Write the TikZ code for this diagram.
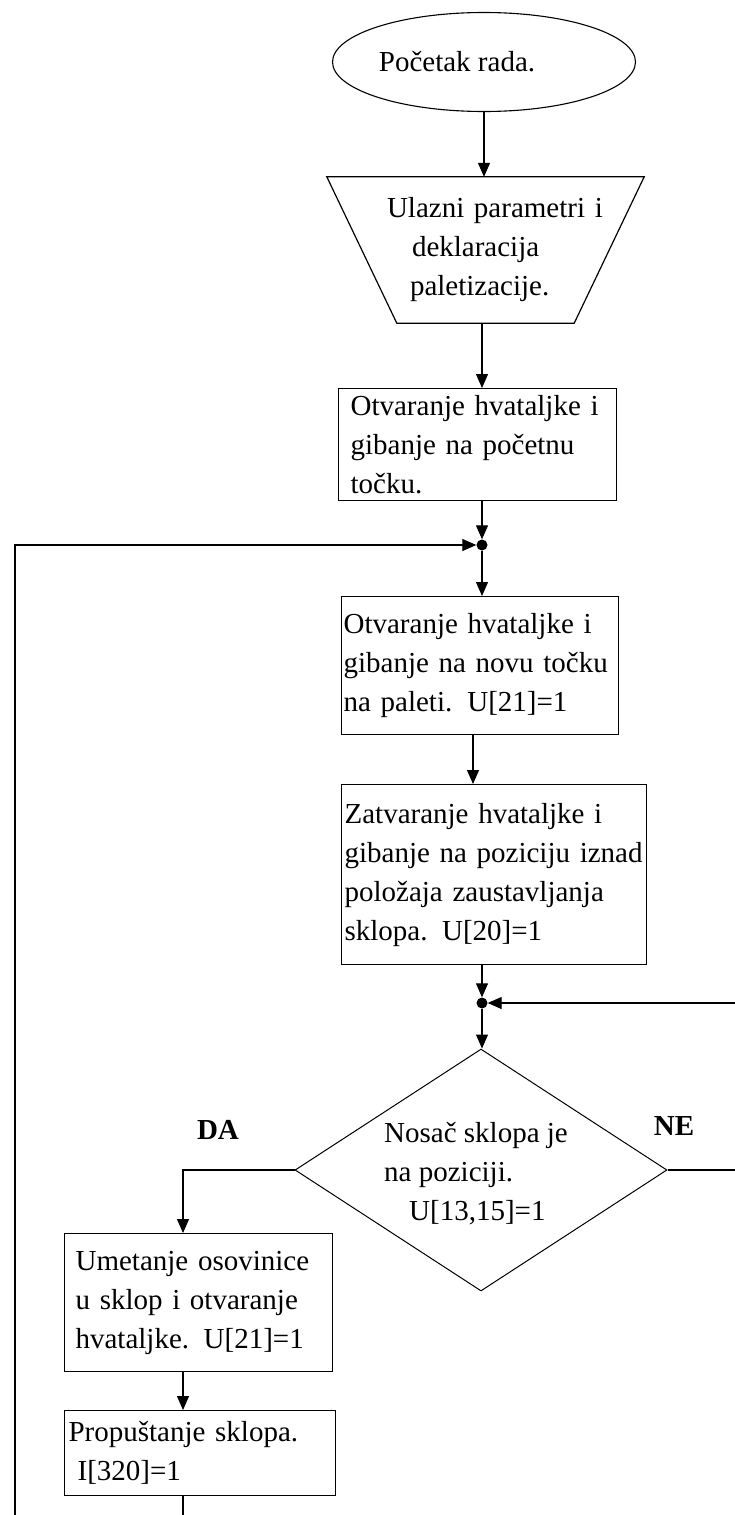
\documentclass[tikz,border=0pt]{standalone}
\usepackage{fontspec}
\setmainfont{Liberation Serif}
\usetikzlibrary{shapes.geometric,arrows.meta,calc}
\begin{document}
\begin{tikzpicture}[x=1pt,y=-1pt,
 every node/.style={font=\fontsize{29}{39}\selectfont},
 box/.style={draw, line width=1.2pt, anchor=north west, align=left, inner ysep=0pt},
 arr/.style={line width=1.2pt, -{Triangle[length=14pt,width=12pt]}},
 dot/.style={circle, fill, inner sep=0pt, minimum size=11pt},
 lbl/.style={font=\fontsize{29}{39}\selectfont\bfseries, inner sep=0pt}
]
\useasboundingbox (0,0) rectangle (735,1515);

% start
\node[draw, ellipse, line width=1.1pt, minimum width=303pt, minimum height=99pt, inner sep=0pt] (start) at (484,62) {Početak rada.\hspace*{54pt}};

% input trapezoid
\node[minimum width=317pt, minimum height=146pt, inner xsep=40pt, inner ysep=0pt, text width=237pt, align=left] (trap) at (485.5,250)
 {\hspace*{20pt}\mbox{Ulazni parametri i}\\\hspace*{45pt}deklaracija\\\hspace*{43pt}paletizacije.};
\draw[line width=1.2pt] (trap.north west) -- (trap.north east) -- ($(trap.south east)+(-70,0)$) -- ($(trap.south west)+(70,0)$) -- cycle;

% process boxes
\node[box, minimum width=278pt, minimum height=112pt, inner xsep=12pt, text width=254pt] (b1) at (338,388)
 {\mbox{Otvaranje hvataljke i}\\\mbox{gibanje na početnu}\\točku.};
\node[box, minimum width=277pt, minimum height=138pt, inner xsep=2pt, text width=273pt] (b2) at (341,596)
 {\mbox{Otvaranje hvataljke i}\\\mbox{gibanje na novu točku}\\\mbox{na paleti.\hspace*{15pt}U[21]=1}};
\node[box, minimum width=305pt, minimum height=180pt, inner xsep=3pt, text width=299pt] (b3) at (341,784)
 {\mbox{Zatvaranje hvataljke i}\\\mbox{gibanje na poziciju iznad}\\\mbox{položaja zaustavljanja}\\\mbox{sklopa. U[20]=1}};
\node[box, minimum width=268pt, minimum height=138pt, inner xsep=11pt, text width=246pt] (b4) at (64,1233)
 {\mbox{Umetanje osovinice}\\\mbox{u sklop i otvaranje}\\\mbox{hvataljke. U[21]=1}};
\node[box, minimum width=271pt, minimum height=85pt, inner xsep=4pt, text width=263pt] (b5) at (64,1410)
 {\mbox{Propuštanje sklopa.}\\\hspace*{9pt}I[320]=1};

% decision
\node[draw, diamond, line width=1pt, minimum width=372pt, minimum height=242pt, inner sep=0pt] (dia) at (481,1170) {};
\node[align=left, inner sep=0pt] (diatxt) at (476,1174) {Nosač sklopa je\\na poziciji.\\\hspace*{25pt}U[13,15]=1};

% junctions
\node[dot] (j1) at (482,545) {};
\node[dot] (j2) at (482,1003) {};

% labels
\node[lbl] (da) at (218,1130) {DA};
\node[lbl] (ne) at (674,1126) {NE};

% helper coordinates
\coordinate (c23) at (473,0);
\coordinate (dl) at (183,0);
\coordinate (rr) at (745,1176);
\coordinate (lb) at (15,1545);

% connectors
\draw[arr] (start.south) -- (start.south |- trap.north);
\draw[arr] (trap.south -| j1) -- (b1.north -| j1);
\draw[arr] (b1.south -| j1) -- (j1);
\draw[arr] (j1) -- (b2.north -| j1);
\draw[arr] (b2.south -| c23) -- (b3.north -| c23);
\draw[arr] (b3.south -| j2) -- (j2);
\draw[arr] (j2) -- (dia.north -| j2);
\draw[arr] (dia.east) -- (dia.east -| rr) -- (rr |- j2) -- (j2);
\draw[arr] (dia.west) -- (dia.west -| dl) -- (b4.north -| dl);
\draw[arr] (b4.south -| dl) -- (b5.north -| dl);
\draw[arr] (b5.south -| dl) -- (dl |- lb) -- (lb) -- (lb |- j1) -- (j1);
\end{tikzpicture}
\end{document}
